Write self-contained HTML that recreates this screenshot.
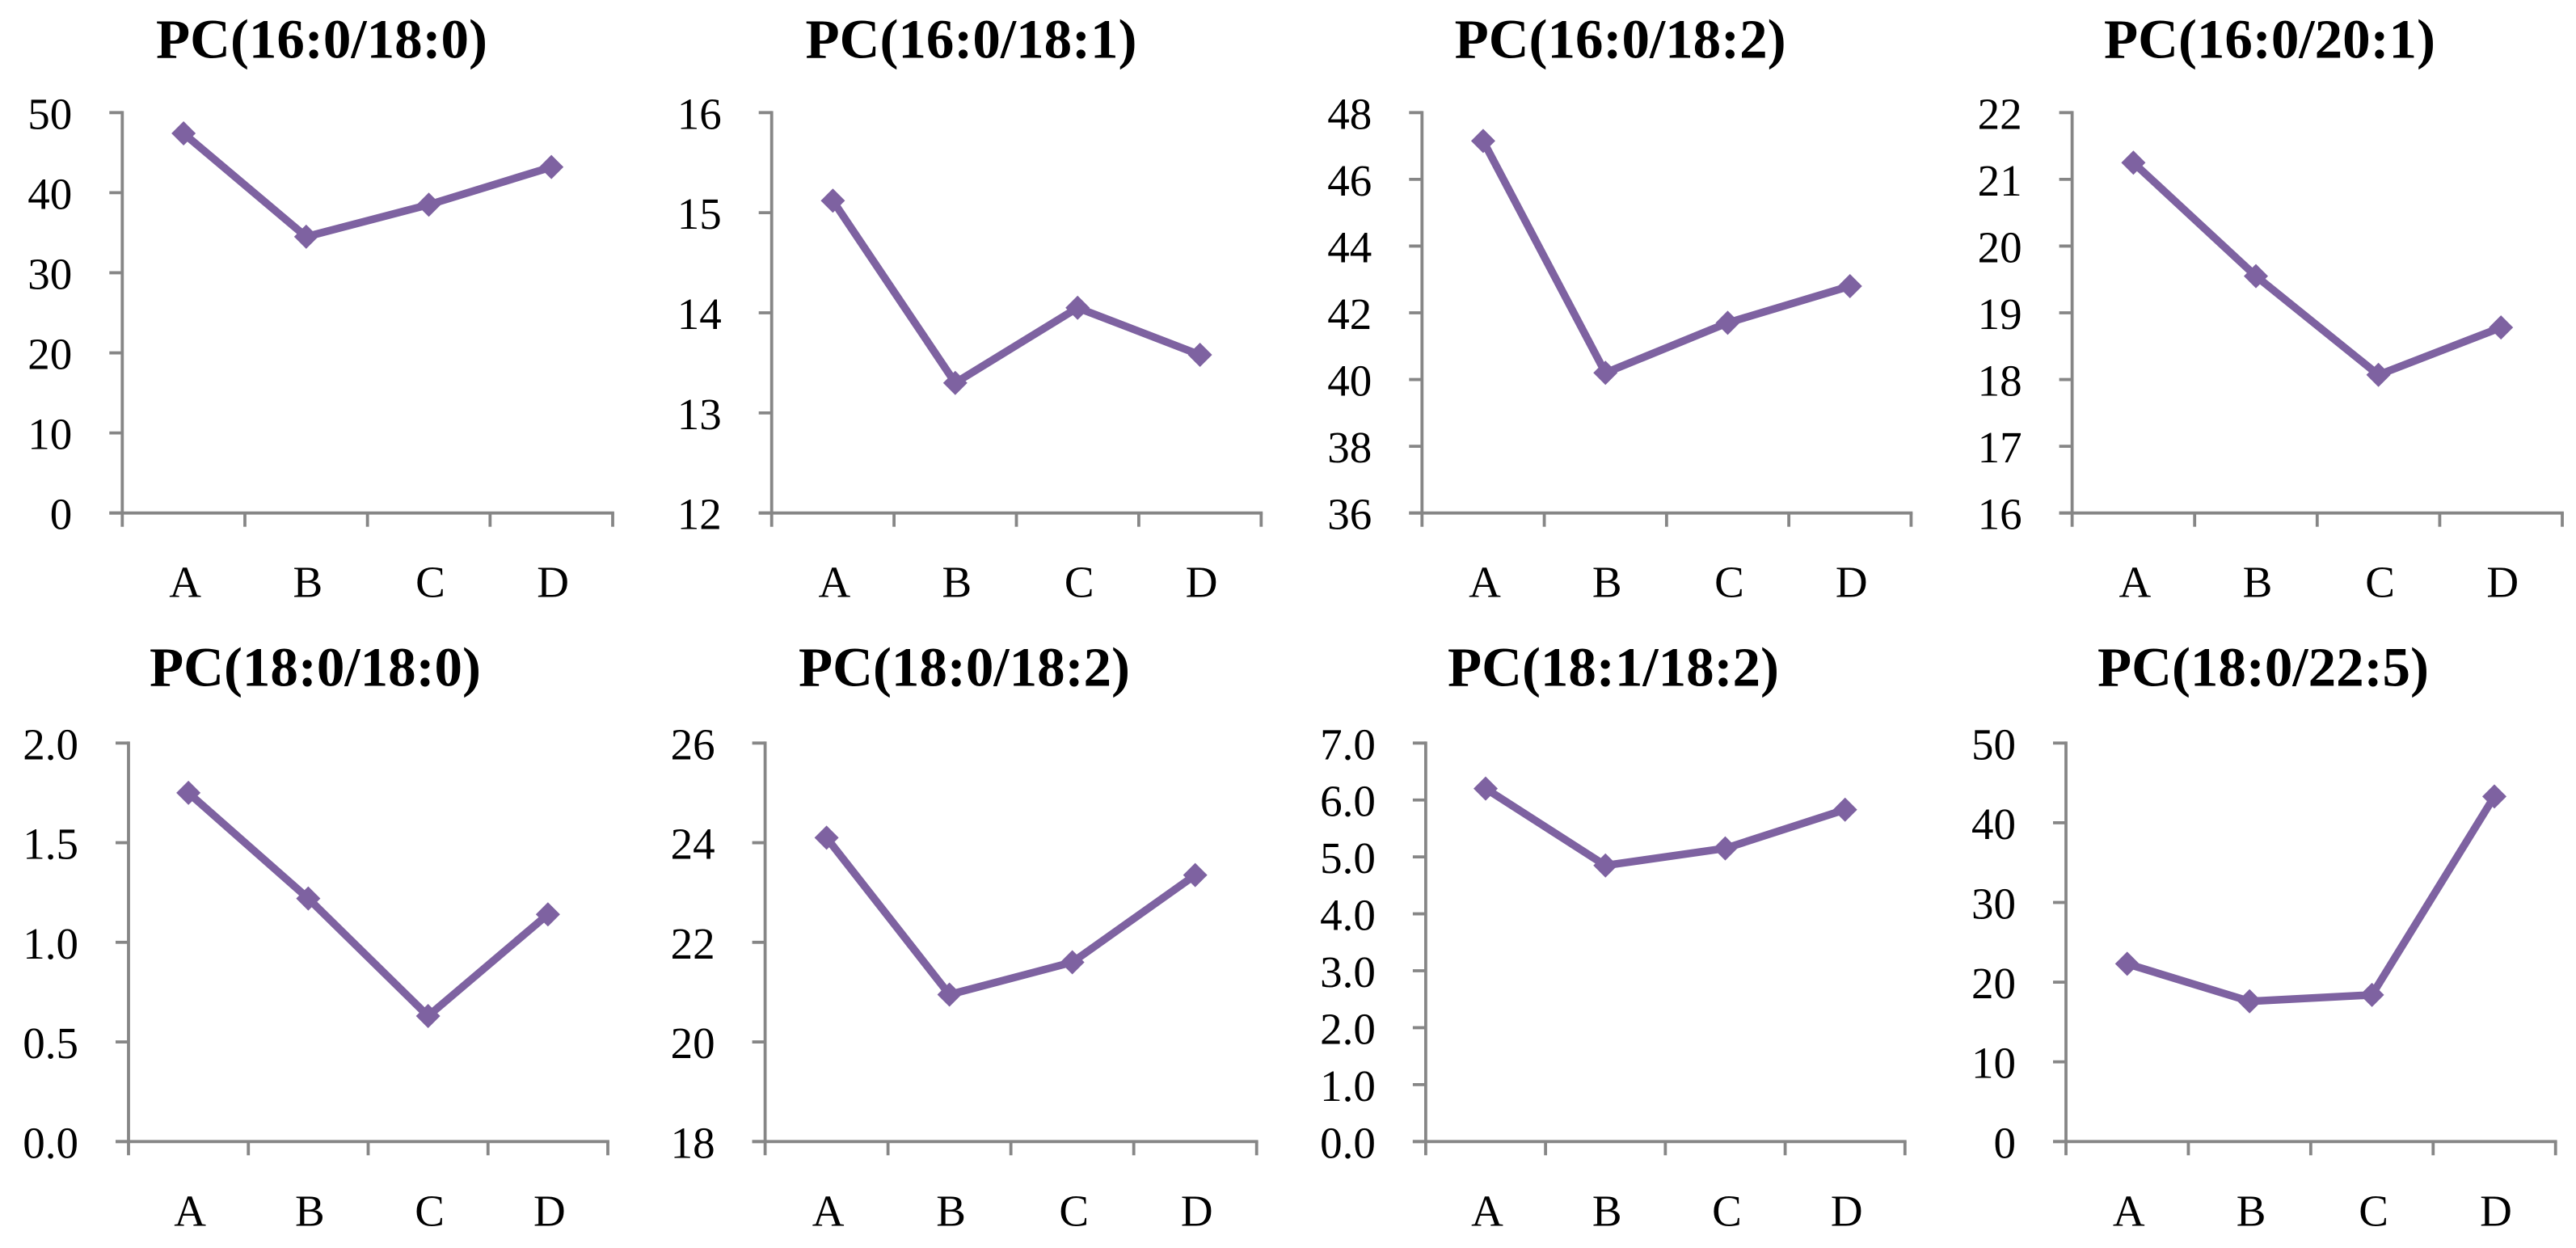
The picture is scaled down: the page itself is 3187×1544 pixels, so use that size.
<!DOCTYPE html>
<html lang="en">
<head>
<meta charset="utf-8">
<title>PC species line charts</title>
<style>
html,body{margin:0;padding:0;background:#fff;}
svg{display:block;font-family:"Liberation Serif",serif;}
</style>
</head>
<body>
<svg id="chart" xmlns="http://www.w3.org/2000/svg" width="3187" height="1544" viewBox="0 0 3187 1544"></svg>
<script>
var categories = ['A', 'B', 'C', 'D'];

var titles = ['PC(16:0/18:0)', 'PC(16:0/18:1)', 'PC(16:0/18:2)', 'PC(16:0/20:1)', 'PC(18:0/18:0)', 'PC(18:0/18:2)', 'PC(18:1/18:2)', 'PC(18:0/22:5)'];

var series160180 = [47.4, 34.5, 38.5, 43.2];
var series160181 = [15.12, 13.3, 14.05, 13.58];
var series160182 = [47.15, 40.2, 41.7, 42.8];
var series160201 = [21.25, 19.55, 18.07, 18.78];
var series180180 = [1.75, 1.22, 0.63, 1.14];
var series180182 = [24.1, 20.95, 21.6, 23.35];
var series181182 = [6.2, 4.85, 5.15, 5.83];
var series180225 = [22.3, 17.6, 18.4, 43.3];

var ticks160180 = ['0', '10', '20', '30', '40', '50'];
var ticks160181 = ['12', '13', '14', '15', '16'];
var ticks160182 = ['36', '38', '40', '42', '44', '46', '48'];
var ticks160201 = ['16', '17', '18', '19', '20', '21', '22'];
var ticks180180 = ['0.0', '0.5', '1.0', '1.5', '2.0'];
var ticks180182 = ['18', '20', '22', '24', '26'];
var ticks181182 = ['0.0', '1.0', '2.0', '3.0', '4.0', '5.0', '6.0', '7.0'];
var ticks180225 = ['0', '10', '20', '30', '40', '50'];

var allSeries = [series160180, series160181, series160182, series160201, series180180, series180182, series181182, series180225];
var allTicks = [ticks160180, ticks160181, ticks160182, ticks160201, ticks180180, ticks180182, ticks181182, ticks180225];

var frames = [
  {l: 151.3, r: 758, t: 139.3, b: 634.7, tc: 398, tb: 71.5},
  {l: 954.7, r: 1560.3, t: 139.3, b: 634.7, tc: 1201.5, tb: 71.5},
  {l: 1759.3, r: 2364.4, t: 139.3, b: 634.7, tc: 2004.6, tb: 71.5},
  {l: 2563.6, r: 3170, t: 139.3, b: 634.7, tc: 2808, tb: 71.5},
  {l: 159, r: 752, t: 919.3, b: 1412.3, tc: 390, tb: 848.5},
  {l: 946.6, r: 1554.7, t: 919.3, b: 1412.3, tc: 1193, tb: 848.5},
  {l: 1763.9, r: 2356.8, t: 919.3, b: 1412.3, tc: 1996, tb: 848.5},
  {l: 2556, r: 3161.7, t: 919.3, b: 1412.3, tc: 2800, tb: 848.5}
];

var svg = document.getElementById('chart');
var NS = 'http://www.w3.org/2000/svg';

function make(tag, attrs, parent) {
  var el = document.createElementNS(NS, tag);
  for (var k in attrs) { el.setAttribute(k, attrs[k]); }
  parent.appendChild(el);
  return el;
}

function drawPanel(index) {
  var f = frames[index];
  var values = allSeries[index];
  var ticks = allTicks[index];
  var min = parseFloat(ticks[0]);
  var max = parseFloat(ticks[ticks.length - 1]);
  var yScale = function (v) { return f.b - (v - min) / (max - min) * (f.b - f.t); };
  var step = (f.r - f.l) / categories.length;
  var xScale = function (i) { return f.l + (i + 0.5) * step; };
  var axisColor = '#868686';
  var markColor = '#7e62a1';

  var g = make('g', {}, svg);
  
  

  var title = make('text', {x: f.tc, y: f.tb, 'text-anchor': 'middle', 'font-size': 69, 'font-weight': 'bold', fill: '#000'}, g);
  title.textContent = titles[index];
  
  

  var yAxis = make('line', {x1: f.l, x2: f.l, y1: f.t - 1.9, y2: f.b + 17, stroke: axisColor, 'stroke-width': 3.8}, g);
  
  

  var xAxis = make('line', {x1: f.l - 16, x2: f.r + 1.9, y1: f.b, y2: f.b, stroke: axisColor, 'stroke-width': 3.8}, g);
  
  

  ticks.forEach(function (label) {
    var y = yScale(parseFloat(label));
    var tick = make('line', {x1: f.l - 16, x2: f.l, y1: y, y2: y, stroke: axisColor, 'stroke-width': 3.8}, g);
    
    
    var text = make('text', {x: f.l - 62, y: y + 20, 'text-anchor': 'end', 'font-size': 55, fill: '#000'}, g);
    text.textContent = label;
    
    
  });

  for (var t = 1; t <= categories.length; t++) {
    var tx = f.l + t * step;
    var xTick = make('line', {x1: tx, x2: tx, y1: f.b, y2: f.b + 17, stroke: axisColor, 'stroke-width': 3.8}, g);
    
    
  }

  categories.forEach(function (name, i) {
    var text = make('text', {x: xScale(i) + 2, y: f.b + 104, 'text-anchor': 'middle', 'font-size': 55, fill: '#000'}, g);
    text.textContent = name;
    
    
  });

  var pts = values.map(function (v, i) { return xScale(i) + ',' + yScale(v); }).join(' ');
  var line = make('polyline', {points: pts, fill: 'none', stroke: markColor, 'stroke-width': 9.5, 'stroke-linejoin': 'round'}, g);
  
  

  values.forEach(function (v, i) {
    var cx = xScale(i);
    var cy = yScale(v);
    var d = 15;
    var marker = make('polygon', {points: (cx - d) + ',' + cy + ' ' + cx + ',' + (cy - d) + ' ' + (cx + d) + ',' + cy + ' ' + cx + ',' + (cy + d), fill: markColor}, g);
    
    
  });
}

for (var p = 0; p < frames.length; p++) { drawPanel(p); }
</script>
</body>
</html>
